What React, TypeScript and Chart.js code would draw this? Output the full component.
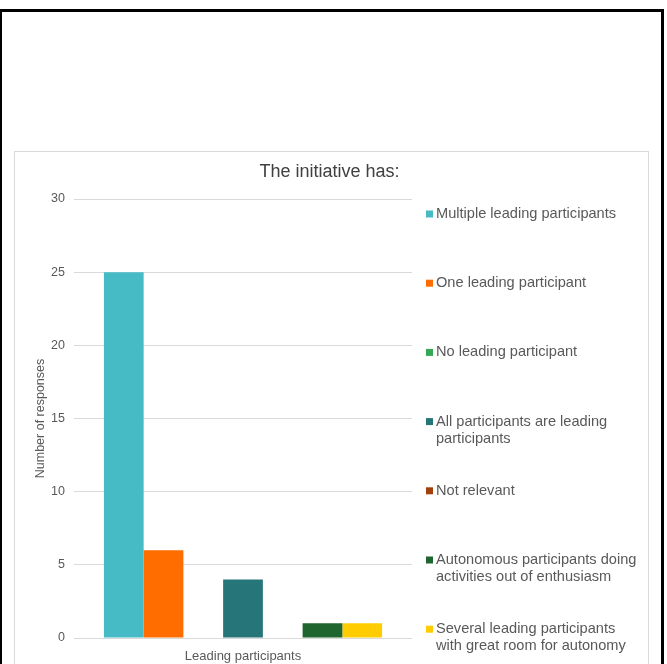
import React, { useEffect, useRef } from "react";
import { Chart, registerables } from "chart.js";

Chart.register(...registerables);

const chartTitle = "The initiative has:";
const yAxisTitle = "Number of responses";
const categories = ["Leading participants"];
const seriesLabels = [
  "Multiple leading participants",
  "One leading participant",
  "No leading participant",
  "All participants are leading participants",
  "Not relevant",
  "Autonomous participants doing activities out of enthusiasm",
  "Several leading participants with great room for autonomy",
];
const seriesValues = [25, 6, 0, 4, 0, 1, 1];
const seriesColors = ["#47BBC5", "#FF6D01", "#34A853", "#267579", "#A0410D", "#1F6530", "#FFCC00"];
const yTicks = { min: 0, max: 30, step: 5 };

const FONT = "'Liberation Sans', Arial, sans-serif";
const TEXT = "#595959";

const titlePlugin = {
  id: "boxTitle",
  afterDraw(chart: any) {
    const { ctx, width } = chart;
    ctx.save();
    ctx.font = `18px ${FONT}`;
    ctx.fillStyle = "#404040";
    ctx.textAlign = "center";
    ctx.textBaseline = "middle";
    ctx.fillText(chartTitle, width / 2 - 2, 20);
    ctx.restore();
  },
};

const legendPlugin = {
  id: "sideLegend",
  afterDraw(chart: any) {
    const { ctx, chartArea } = chart;
    ctx.save();
    ctx.font = `14.6px ${FONT}`;
    ctx.textBaseline = "middle";
    const xSq = chartArea.right + 14;
    const xText = chartArea.right + 24;
    const maxW = 205;
    const y0 = chartArea.top + 15;
    const step = 69.2;
    const lineH = 17;
    seriesLabels.forEach((label, i) => {
      const y = y0 + i * step;
      ctx.fillStyle = seriesColors[i];
      ctx.fillRect(xSq, y - 3.5, 7, 7);
      ctx.fillStyle = TEXT;
      const words = label.split(" ");
      const lines: string[] = [];
      let cur = "";
      for (const w of words) {
        const t = cur ? cur + " " + w : w;
        if (ctx.measureText(t).width > maxW && cur) {
          lines.push(cur);
          cur = w;
        } else cur = t;
      }
      if (cur) lines.push(cur);
      lines.forEach((ln, j) => ctx.fillText(ln, xText, y + j * lineH));
    });
    ctx.restore();
  },
};

export default function App() {
  const ref = useRef<HTMLCanvasElement>(null);
  useEffect(() => {
    if (!ref.current) return;
    const chart = new Chart(ref.current, {
      type: "bar",
      data: {
        labels: categories,
        datasets: seriesLabels.map((label, i) => ({
          label,
          data: [seriesValues[i]],
          backgroundColor: seriesColors[i],
          borderWidth: 0,
        })),
      },
      options: {
        responsive: false,
        animation: false,
        devicePixelRatio: 1,
        layout: { padding: { left: 0, right: 236, top: 47, bottom: 0 } },
        datasets: { bar: { barPercentage: 1, categoryPercentage: 0.823 } },
        plugins: {
          legend: { display: false },
          tooltip: { enabled: false },
          title: { display: false },
        },
        scales: {
          x: {
            grid: { display: false },
            border: { display: false },
            ticks: { color: TEXT, font: { family: FONT, size: 13 }, padding: 3 },
            afterFit: (s: any) => { s.height = 26; },
          },
          y: {
            min: yTicks.min,
            max: yTicks.max,
            ticks: { stepSize: yTicks.step, color: TEXT, font: { family: FONT, size: 12.5 }, padding: 9 },
            grid: { color: "#D9D9D9", lineWidth: 1, drawTicks: false },
            border: { display: false },
            title: {
              display: true,
              text: yAxisTitle,
              color: TEXT,
              font: { family: FONT, size: 12.5 },
              padding: { top: 18, bottom: 0 },
            },
            afterFit: (s: any) => { s.width = 59; },
          },
        },
      },
      plugins: [titlePlugin, legendPlugin],
    });
    return () => chart.destroy();
  }, []);

  return (
    <div style={{ position: "fixed", left: 0, top: 0, width: 667, height: 664, overflow: "hidden", background: "#fff" }}>
      <div
        style={{
          position: "absolute", left: 0, top: 9, width: 664, height: 700, boxSizing: "border-box",
          borderTop: "3px solid #000", borderLeft: "2px solid #000", borderRight: "3px solid #000",
        }}
      />
      <div
        style={{
          position: "absolute", left: 14, top: 151, width: 635, height: 600, boxSizing: "border-box",
          border: "1px solid #D9D9D9",
        }}
      />
      <canvas
        ref={ref}
        width={633}
        height={512}
        style={{ position: "absolute", left: 15, top: 152, width: 633, height: 512 }}
      />
    </div>
  );
}
